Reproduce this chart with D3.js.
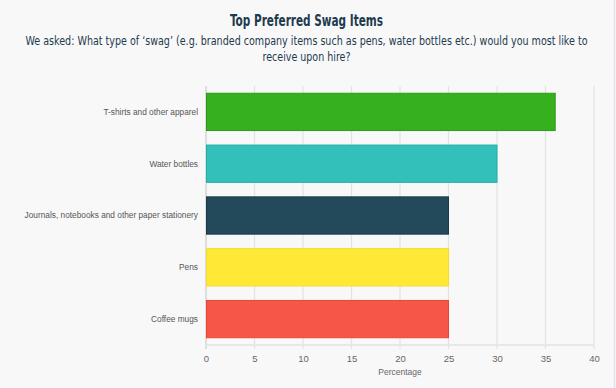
<!DOCTYPE html>
<html>
<head>
<meta charset="utf-8">
<script src="https://cdn.jsdelivr.net/npm/d3@7"></script>
<style>
  html, body { margin: 0; padding: 0; background: #f9f8f9; }
  #chart { width: 616px; height: 388px; }
</style>
</head>
<body>
<div id="chart"></div>
<script>
// data
var categories = ["T-shirts and other apparel", "Water bottles", "Journals, notebooks and other paper stationery", "Pens", "Coffee mugs"];
var values = [36, 30, 25, 25, 25];
var colors = ["#37b01f", "#33bfba", "#224a5a", "#ffe936", "#f55647"];
var strokes = ["#2a9a18", "#22aea8", "#1a3b48", "#f2dc2a", "#ec4535"];
var xTicks = [0, 5, 10, 15, 20, 25, 30, 35, 40];

var svg = d3.select("#chart").append("svg")
    .attr("width", 616)
    .attr("height", 388)
    .style("background-color", "#f9f8f9")

var margin = {left: 206, right: 22, top: 86, bottom: 43}
var W = 616, H = 388
var narrow = "'DejaVu Sans Condensed', 'Liberation Sans Narrow', 'Roboto Condensed', Roboto, sans-serif"

var x = d3.scaleLinear().domain([0, 40]).range([margin.left, W - margin.right])
var y = d3.scaleBand().domain(categories).range([margin.top, H - margin.bottom]).paddingInner(0.28).paddingOuter(0.14)

// right page border
svg.append("line")
    .attr("x1", 614.5).attr("x2", 614.5).attr("y1", 0).attr("y2", H)
    .attr("stroke", "#e4e2e4").attr("stroke-width", 1.5)

// title
svg.append("text")
    .attr("x", 306.5).attr("y", 26)
    .attr("text-anchor", "middle")
    .attr("textLength", 153)
    .attr("lengthAdjust", "spacingAndGlyphs")
    .style("font-family", narrow)
    .style("font-weight", "bold")
    .style("font-size", "15.5px")
    .style("fill", "#1d3b4e")
    .text("Top Preferred Swag Items")

var sub = ["We asked: What type of \u2018swag\u2019 (e.g. branded company items such as pens, water bottles etc.) would you most like to", "receive upon hire?"]
var subW = [562, 88]
svg.selectAll("text.sub").data(sub).enter().append("text")
    .attr("class", "sub")
    .attr("x", 306.5)
    .attr("y", function(d, i) { return 45 + i * 16 })
    .attr("text-anchor", "middle")
    .attr("textLength", function(d, i) { return subW[i] })
    .attr("lengthAdjust", "spacingAndGlyphs")
    .style("font-family", narrow)
    .style("font-size", "13px")
    .style("fill", "#1d3b4e")
    .text(function(d) { return d })

// grid lines
svg.selectAll("line.grid").data(xTicks).enter().append("line")
    .attr("class", "grid")
    .attr("x1", function(d) { return x(d) }).attr("x2", function(d) { return x(d) })
    .attr("y1", margin.top).attr("y2", H - margin.bottom + 4)
    .attr("stroke", function(d) { return d == 0 ? "#cfcfcf" : "#e3e3e3" })
    .attr("stroke-width", 1.3)

// baseline
svg.append("line")
    .attr("x1", x(0)).attr("x2", x(40))
    .attr("y1", H - margin.bottom).attr("y2", H - margin.bottom)
    .attr("stroke", "#e3e3e3").attr("stroke-width", 1.3)

// bars
svg.selectAll("rect.bar").data(categories).enter().append("rect")
    .attr("class", "bar")
    .attr("x", x(0) + 0.5)
    .attr("y", function(d) { return y(d) })
    .attr("width", function(d, i) { return x(values[i]) - x(0) - 0.5 })
    .attr("height", y.bandwidth())
    .attr("fill", function(d, i) { return colors[i] })
    .attr("stroke", function(d, i) { return strokes[i] })
    .attr("stroke-width", 1)

// category labels
svg.selectAll("text.cat").data(categories).enter().append("text")
    .attr("class", "cat")
    .attr("x", margin.left - 8)
    .attr("y", function(d) { return y(d) + y.bandwidth() / 2 })
    .attr("dy", "0.35em")
    .attr("text-anchor", "end")
    .style("font-family", "'Liberation Sans', Arial, sans-serif")
    .style("font-size", "8.3px")
    .style("fill", "#555")
    .text(function(d) { return d })

// x axis labels
var xAxis = d3.axisBottom(x).tickValues(xTicks).tickSize(0).tickPadding(10)
var gx = svg.append("g")
    .attr("transform", "translate(0," + (H - margin.bottom) + ")")
    .call(xAxis)
gx.select(".domain").remove()
gx.selectAll("text")
    .style("font-family", "'Liberation Sans', Arial, sans-serif")
    .style("font-size", "9.5px")
    .style("fill", "#666")

svg.append("text")
    .attr("x", (x(0) + x(40)) / 2).attr("y", 375)
    .attr("text-anchor", "middle")
    .style("font-family", "'Liberation Sans', Arial, sans-serif")
    .style("font-size", "8.5px")
    .style("fill", "#666")
    .text("Percentage")
</script>
</body>
</html>
